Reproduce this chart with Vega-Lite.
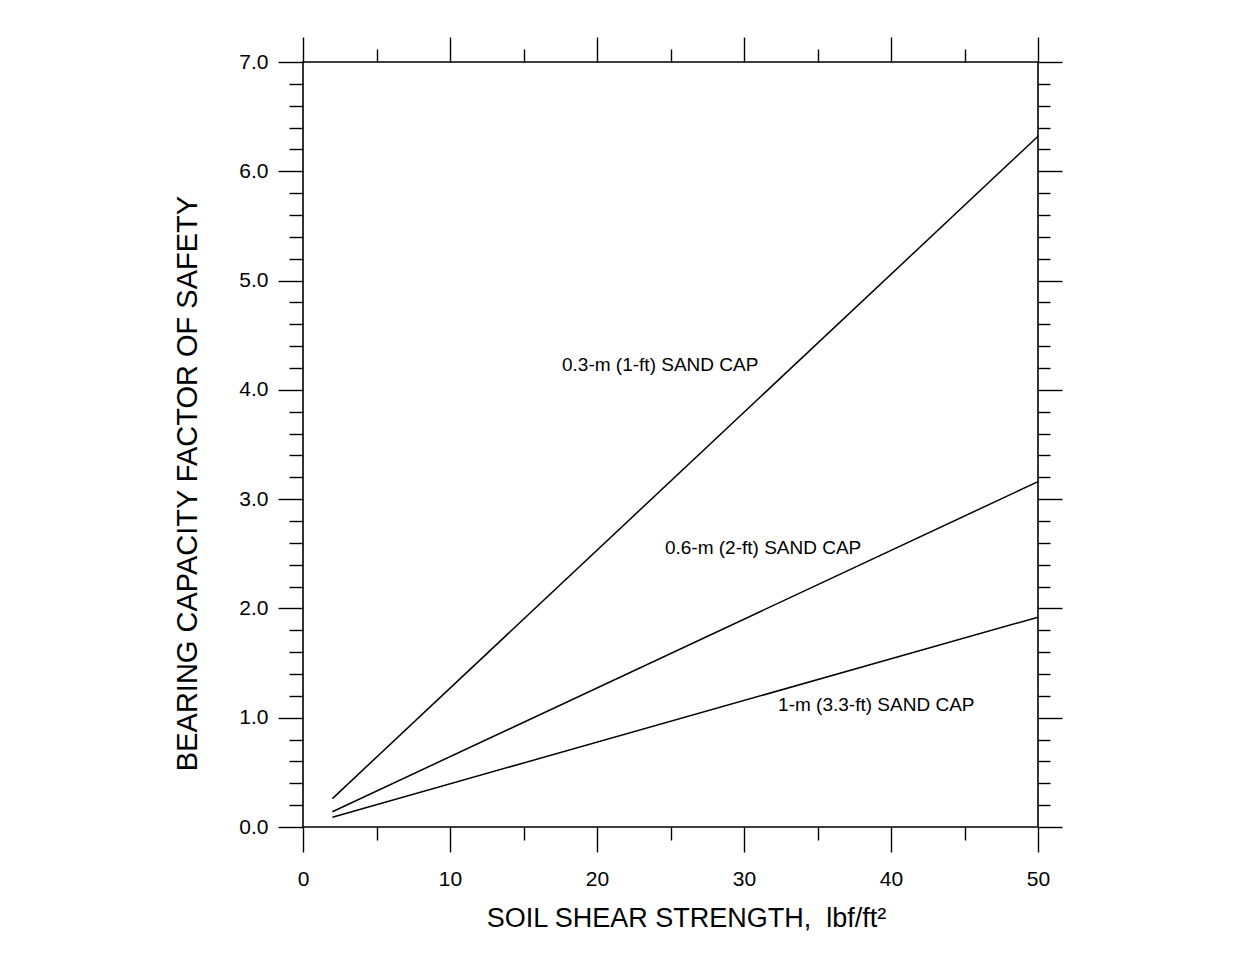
{
  "$schema": "https://vega.github.io/schema/vega-lite/v6.json",
  "width": 735,
  "height": 765,
  "autosize": {"type": "none"},
  "padding": {"left": 303, "top": 62, "right": 212, "bottom": 131},
  "background": "white",
  "config": {
    "view": {"stroke": "black", "strokeWidth": 1.6},
    "font": "Liberation Sans",
    "axis": {"grid": false, "domain": false, "tickColor": "black", "tickWidth": 1.4, "labelColor": "black", "titleColor": "black", "titleFontWeight": "normal", "labelOverlap": false, "labelFlush": false, "labelFont": "Liberation Sans", "titleFont": "Liberation Sans"}
  },
  "datasets": {
    "curves": [
      {"cap": "0.3-m (1-ft) SAND CAP", "strength": 2, "fs": 0.26},
      {"cap": "0.3-m (1-ft) SAND CAP", "strength": 50, "fs": 6.32},
      {"cap": "0.6-m (2-ft) SAND CAP", "strength": 2, "fs": 0.14},
      {"cap": "0.6-m (2-ft) SAND CAP", "strength": 50, "fs": 3.16},
      {"cap": "1-m (3.3-ft) SAND CAP", "strength": 2, "fs": 0.09},
      {"cap": "1-m (3.3-ft) SAND CAP", "strength": 50, "fs": 1.92}
    ],
    "labels": [
      {"cap": "0.3-m (1-ft) SAND CAP", "strength": 24.3, "fs": 4.23},
      {"cap": "0.6-m (2-ft) SAND CAP", "strength": 31.3, "fs": 2.55},
      {"cap": "1-m (3.3-ft) SAND CAP", "strength": 39.0, "fs": 1.12}
    ]
  },
  "layer": [
    {
      "data": {"name": "curves"},
      "mark": {"type": "line", "color": "black", "strokeWidth": 1.5},
      "encoding": {
        "x": {
          "field": "strength", "type": "quantitative",
          "scale": {"domain": [0, 50], "nice": false, "zero": false},
          "axis": {
            "orient": "bottom",
            "values": [0, 5, 10, 15, 20, 25, 30, 35, 40, 45, 50],
            "format": "d",
            "tickSize": {"condition": {"test": "datum.value % 10 === 0", "value": 25}, "value": 13},
            "labelExpr": "datum.value % 10 === 0 ? datum.label : ''",
            "labelFontSize": 21,
            "labelPadding": 16,
            "title": "SOIL SHEAR STRENGTH, \u00a0lbf/ft²",
            "titleFontSize": 27,
            "titlePadding": 16,
            "titleX": 383
          }
        },
        "y": {
          "field": "fs", "type": "quantitative",
          "scale": {"domain": [0, 7], "nice": false, "zero": false},
          "axis": {
            "orient": "left",
            "values": [0, 0.2, 0.4, 0.6, 0.8, 1, 1.2, 1.4, 1.6, 1.8, 2, 2.2, 2.4, 2.6, 2.8, 3, 3.2, 3.4, 3.6, 3.8, 4, 4.2, 4.4, 4.6, 4.8, 5, 5.2, 5.4, 5.6, 5.8, 6, 6.2, 6.4, 6.6, 6.8, 7],
            "format": ".1f",
            "tickSize": {"condition": {"test": "abs(datum.value - round(datum.value)) < 0.01", "value": 25}, "value": 14},
            "labelExpr": "abs(datum.value - round(datum.value)) < 0.01 ? datum.label : ''",
            "labelFontSize": 21,
            "labelPadding": 10,
            "title": "BEARING CAPACITY FACTOR OF SAFETY",
            "titleFontSize": 29,
            "titlePadding": 36,
            "titleY": 421
          }
        },
        "detail": {"field": "cap", "type": "nominal"}
      }
    },
    {
      "data": {"name": "labels"},
      "mark": {"type": "text", "color": "black", "fontSize": 19, "font": "Liberation Sans"},
      "encoding": {
        "x": {
          "field": "strength", "type": "quantitative",
          "scale": {"domain": [0, 50], "nice": false, "zero": false},
          "axis": {
            "orient": "top",
            "values": [0, 5, 10, 15, 20, 25, 30, 35, 40, 45, 50],
            "tickSize": {"condition": {"test": "datum.value % 10 === 0", "value": 25}, "value": 13},
            "labels": false,
            "title": null
          }
        },
        "y": {
          "field": "fs", "type": "quantitative",
          "scale": {"domain": [0, 7], "nice": false, "zero": false},
          "axis": {
            "orient": "right",
            "values": [0, 0.2, 0.4, 0.6, 0.8, 1, 1.2, 1.4, 1.6, 1.8, 2, 2.2, 2.4, 2.6, 2.8, 3, 3.2, 3.4, 3.6, 3.8, 4, 4.2, 4.4, 4.6, 4.8, 5, 5.2, 5.4, 5.6, 5.8, 6, 6.2, 6.4, 6.6, 6.8, 7],
            "tickSize": {"condition": {"test": "abs(datum.value - round(datum.value)) < 0.01", "value": 24}, "value": 12},
            "labels": false,
            "title": null
          }
        },
        "text": {"field": "cap", "type": "nominal"}
      }
    }
  ],
  "resolve": {"axis": {"x": "independent", "y": "independent"}}
}
